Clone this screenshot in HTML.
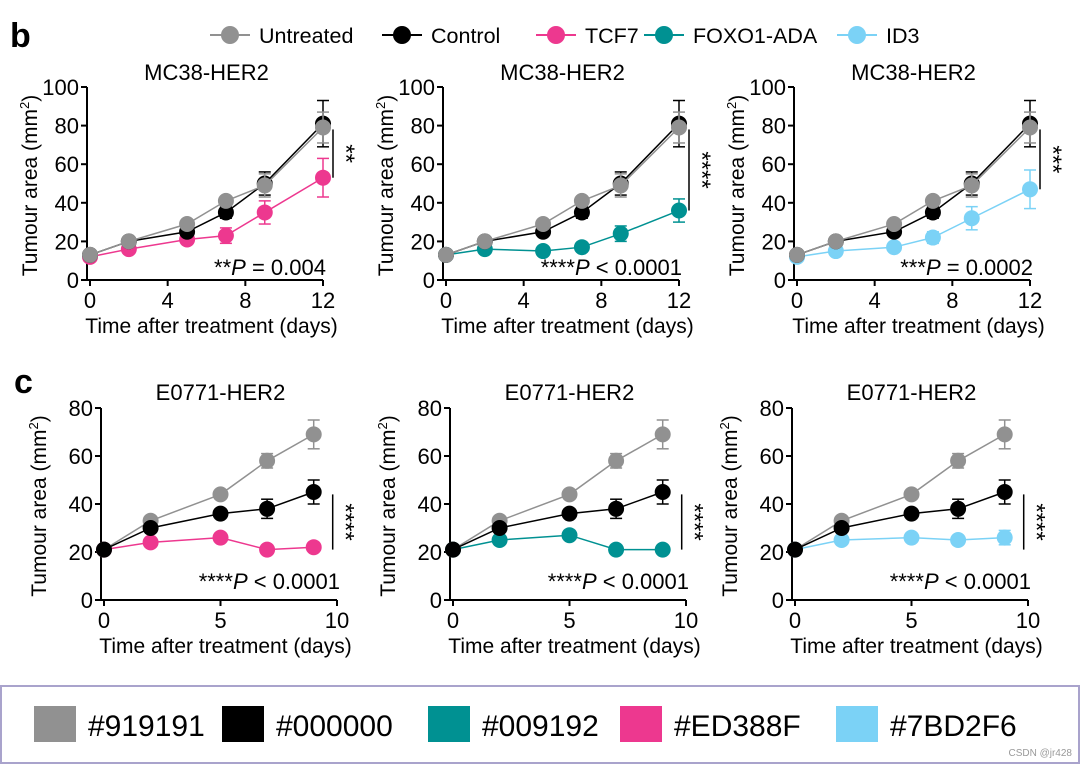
<!DOCTYPE html>
<html><head><meta charset="utf-8"><style>
body{margin:0;background:#fff;width:1080px;height:765px;overflow:hidden;font-family:"Liberation Sans",Arial,sans-serif}
svg text{font-family:"Liberation Sans",Arial,sans-serif}
</style></head><body>
<svg id="c" width="1080" height="765" viewBox="0 0 1080 765"></svg>
<script>
const daysTop=[0,2,5,7,9,12];
const untreatedTop=[13,20,29,41,49,79];
const untreatedTopErr=[1,1,2,2,6,8];
const controlTop=[13,20,25,35,50,81];
const controlTopErr=[1,1,2,3,6,12];
const tcf7Top=[12,16,21,23,35,53];
const tcf7TopErr=[1,1,2,4,6,10];
const foxoTop=[13,16,15,17,24,36];
const foxoTopErr=[1,1,1,2,4,6];
const id3Top=[12,15,17,22,32,47];
const id3TopErr=[1,1,1,3,6,10];
const daysBot=[0,2,5,7,9];
const untreatedBot=[21,33,44,58,69];
const untreatedBotErr=[1,1,1,3,6];
const controlBot=[21,30,36,38,45];
const controlBotErr=[1,1,1,4,5];
const tcf7Bot=[21,24,26,21,22];
const foxoBot=[21,25,27,21,21];
const id3Bot=[21,25,26,25,26];
const id3BotErr=[1,1,1,1,3];
const xTicksTop=[0,4,8,12];
const yTicksTop=[0,20,40,60,80,100];
const xTicksBot=[0,5,10];
const yTicksBot=[0,20,40,60,80];
const legendNames=['Untreated','Control','TCF7','FOXO1-ADA','ID3'];
const legendColors=['#919191','#000000','#ED388F','#009192','#7BD2F6'];
const swatchLabels=['#919191','#000000','#009192','#ED388F','#7BD2F6'];

const svg=document.getElementById('c');
const NS='http://www.w3.org/2000/svg';
function el(t,a,p){const e=document.createElementNS(NS,t);for(const k in a)e.setAttribute(k,a[k]);(p||svg).appendChild(e);return e;}
function txt(s,a,p){const e=el('text',a,p);e.textContent=s;return e;}

const lb=txt('b',{x:10,y:47,'font-size':34,'font-weight':'bold'});


const lc=txt('c',{x:14,y:393,'font-size':34,'font-weight':'bold'});



const legX=[230,402,556,664,857];
legendNames.forEach((n,i)=>{
  const g=el('g',{});
  
  
  el('line',{x1:legX[i]-20,x2:legX[i]+20,y1:35,y2:35,stroke:legendColors[i],'stroke-width':2},g);
  el('circle',{cx:legX[i],cy:35,r:9,fill:legendColors[i]},g);
  txt(n,{x:legX[i]+29,y:43,'font-size':21.5},g);
});

function panel(o){
  const g=el('g',{});
  
  
  const sx=v=>o.x0+(v-o.xmin)/(o.xmax-o.xmin)*(o.x1-o.x0);
  const sy=v=>o.y0-(v)/(o.ymax)*(o.y0-o.y1);
  const axL=o.x0-3;
  const t=txt(o.title,{x:(o.x0+o.x1)/2,y:o.titleY,'font-size':22,'text-anchor':'middle'},g);
  
  
  el('line',{x1:axL,x2:axL,y1:o.y1,y2:o.y0,stroke:'#000','stroke-width':2},g);
  el('line',{x1:axL,x2:o.x1,y1:o.y0,y2:o.y0,stroke:'#000','stroke-width':2},g);
  o.yt.forEach(v=>{el('line',{x1:axL-6,x2:axL,y1:sy(v),y2:sy(v),stroke:'#000','stroke-width':2},g);
    txt(String(v),{x:axL-8,y:sy(v)+8,'font-size':22,'text-anchor':'end'},g);});
  o.xt.forEach(v=>{el('line',{x1:sx(v),x2:sx(v),y1:o.y0,y2:o.y0+6,stroke:'#000','stroke-width':2},g);
    txt(String(v),{x:sx(v),y:o.y0+28,'font-size':22,'text-anchor':'middle'},g);});
  const xl=txt('Time after treatment (days)',{x:(o.x0+o.x1)/2+5,y:o.y0+53,'font-size':21,'text-anchor':'middle'},g);
  
  
  const yl=txt('',{transform:`translate(${axL-o.ytOff},${(o.y0+o.y1)/2+2}) rotate(-90)`,'font-size':21,'text-anchor':'middle'},g);
  yl.innerHTML='Tumour area (mm<tspan dy="-8" font-size="13">2</tspan><tspan dy="8">)</tspan>';
  
  
  o.series.forEach(s=>{
    const sg=el('g',{},g);
    
    
    const pts=o.days.map((d,i)=>sx(d)+','+sy(s.v[i])).join(' ');
    el('polyline',{points:pts,fill:'none',stroke:s.c,'stroke-width':1.5},sg);
    o.days.forEach((d,i)=>{
      if(s.e&&s.e[i]>1.5){const x=sx(d),a=sy(s.v[i]+s.e[i]),b=sy(s.v[i]-s.e[i]);
        el('line',{x1:x,x2:x,y1:a,y2:b,stroke:s.c,'stroke-width':1.5},sg);
        el('line',{x1:x-6,x2:x+6,y1:a,y2:a,stroke:s.c,'stroke-width':1.5},sg);
        el('line',{x1:x-6,x2:x+6,y1:b,y2:b,stroke:s.c,'stroke-width':1.5},sg);}
      const c=el('circle',{cx:sx(d),cy:sy(s.v[i]),r:8,fill:s.c},sg);
      
      
    });
  });
  const bx=sx(o.days[o.days.length-1])+o.barOff;
  el('line',{x1:bx,x2:bx,y1:sy(o.sig[0]),y2:sy(o.sig[1]),stroke:'#000','stroke-width':1.5},g);
  txt(o.stars,{transform:`translate(${bx+5},${(sy(o.sig[0])+sy(o.sig[1]))/2}) rotate(90)`,'font-size':24,'text-anchor':'middle'},g);
  const p=txt('',{x:o.x1+3,y:o.pY,'font-size':22,'text-anchor':'end'},g);
  p.innerHTML=o.stars+'<tspan font-style="italic">P</tspan>'+o.p;
  
  
}
const topX=[90,446,797];
const topTreat=[[tcf7Top,tcf7TopErr,'#ED388F','tcf7'],[foxoTop,foxoTopErr,'#009192','foxo1-ada'],[id3Top,id3TopErr,'#7BD2F6','id3']];
const topStars=['**','****','***'];
const topP=[' = 0.004',' < 0.0001',' = 0.0002'];
const topSig=[[78,53],[78,36],[78,47]];
topX.forEach((x,i)=>panel({name:'mc38-panel-'+(i+1),title:'MC38-HER2',titleY:80,x0:x,x1:x+233,y0:280,y1:87,xmin:0,xmax:12,ymax:100,ytOff:50,
  xt:xTicksTop,yt:yTicksTop,days:daysTop,stars:topStars[i],p:topP[i],pY:275,sig:topSig[i],barOff:10,
  series:[{name:topTreat[i][3],v:topTreat[i][0],e:topTreat[i][1],c:topTreat[i][2]},
    {name:'control',v:controlTop,e:controlTopErr,c:'#000000'},
    {name:'untreated',v:untreatedTop,e:untreatedTopErr,c:'#919191'}]}));
const botX=[104,453,795];
const botTreat=[[tcf7Bot,null,'#ED388F','tcf7'],[foxoBot,null,'#009192','foxo1-ada'],[id3Bot,id3BotErr,'#7BD2F6','id3']];
botX.forEach((x,i)=>panel({name:'e0771-panel-'+(i+1),title:'E0771-HER2',titleY:400,x0:x,x1:x+233,y0:600,y1:408,xmin:0,xmax:10,ymax:80,ytOff:55,
  xt:xTicksBot,yt:yTicksBot,days:daysBot,stars:'****',p:' < 0.0001',pY:589,sig:[44,21],barOff:19,
  series:[{name:botTreat[i][3],v:botTreat[i][0],e:botTreat[i][1],c:botTreat[i][2]},
    {name:'untreated',v:untreatedBot,e:untreatedBotErr,c:'#919191'},
    {name:'control',v:controlBot,e:controlBotErr,c:'#000000'}]}));

const box=el('g',{});


el('rect',{x:1,y:686,width:1078,height:77,fill:'#fff',stroke:'#a9a3cc','stroke-width':2},box);
const swX=[34,222,428,620,836];
const swFill=['#919191','#000000','#009192','#ED388F','#7BD2F6'];
swatchLabels.forEach((l,i)=>{
  const g=el('g',{},box);
  
  
  el('rect',{x:swX[i],y:706,width:42,height:36,fill:swFill[i]},g);
  txt(l,{x:swX[i]+54,y:736,'font-size':30},g);
});
txt('CSDN @jr428',{x:1072,y:756,'font-size':10,fill:'#999','text-anchor':'end'},box);
</script>
</body></html>
